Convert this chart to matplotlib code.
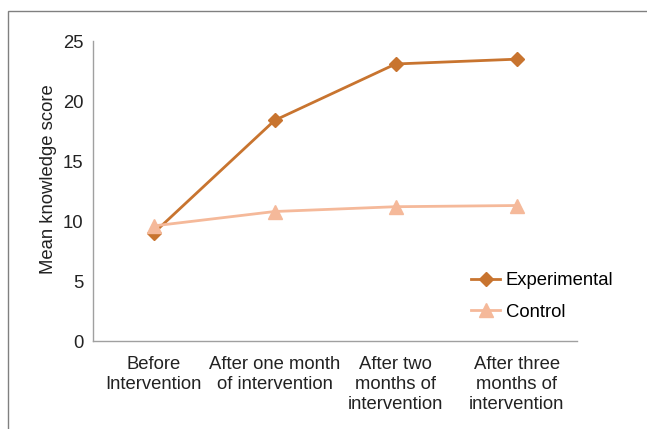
import matplotlib.pyplot as plt
from matplotlib.patches import Rectangle

plt.rcParams['font.family'] = ['Liberation Sans', 'DejaVu Sans']

categories = ["Before\nIntervention", "After one month\nof intervention",
              "After two\nmonths of\nintervention", "After three\nmonths of\nintervention"]
experimental = [9.0, 18.4, 23.1, 23.5]
control = [9.6, 10.8, 11.2, 11.3]
y_ticks = [0, 5, 10, 15, 20, 25]

EXP_COLOR = "#C8742F"
CTRL_COLOR = "#F5B99A"
FS = 13.3

fig = plt.figure(figsize=(6.47, 4.29), dpi=100)
ax = fig.add_axes([0.144, 0.205, 0.748, 0.699])

x = range(len(categories))
ax.plot(x, experimental, color=EXP_COLOR, lw=2, marker="D", ms=7.5, label="Experimental")
ax.plot(x, control, color=CTRL_COLOR, lw=2, marker="^", ms=10, label="Control")

ax.set_xlim(-0.5, 3.5)
ax.set_ylim(0, 25)
ax.set_yticks(y_ticks)
ax.set_xticks(list(x))
ax.set_xticklabels(categories, fontsize=FS, color="#222222", linespacing=1.2)
ax.tick_params(axis="y", labelsize=FS, labelcolor="#222222", length=0, pad=7)
ax.tick_params(axis="x", length=0, pad=11)
ax.set_ylabel("Mean knowledge score", fontsize=FS, color="#222222", labelpad=4, y=0.54)

for side in ["top", "right"]:
    ax.spines[side].set_visible(False)
for side in ["left", "bottom"]:
    ax.spines[side].set_color("#A0A0A0")
    ax.spines[side].set_linewidth(1)

ax.legend(loc="upper left", bbox_to_anchor=(0.765, 0.255), frameon=False,
          fontsize=FS, handlelength=1.6, handletextpad=0.3, labelspacing=0.8,
          borderaxespad=0)

# outer frame
fig.patches.append(Rectangle((8 / 647, -0.05), 1.1, (429 - 11) / 429 + 0.05,
                             transform=fig.transFigure, fill=False,
                             edgecolor="#808080", lw=1))

fig.savefig("out.png", dpi=100)
